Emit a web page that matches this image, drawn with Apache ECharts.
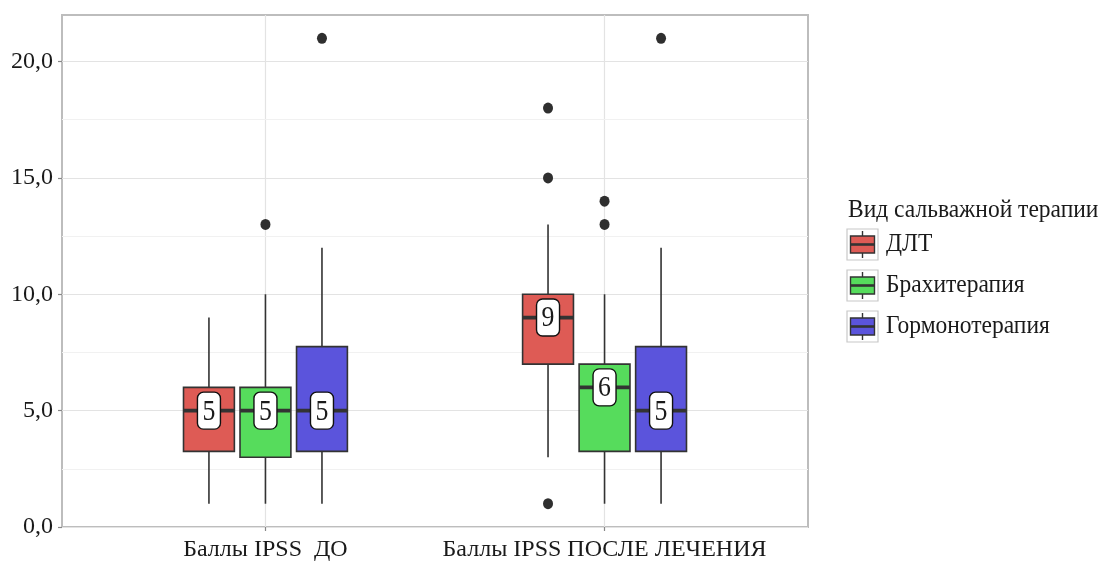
<!DOCTYPE html>
<html>
<head>
<meta charset="utf-8">
<script src="https://cdn.jsdelivr.net/npm/echarts@6/dist/echarts.min.js"></script>
<style>
  html, body { margin: 0; padding: 0; background: #fff; }
  #chart { width: 1105px; height: 562px; }
</style>
</head>
<body>
<div id="chart"></div>
<script>
// Groups on the x axis and therapy types (dodged inside each group)
const groups = ['Баллы IPSS  ДО', 'Баллы IPSS ПОСЛЕ ЛЕЧЕНИЯ'];
const therapies = ['ДЛТ', 'Брахитерапия', 'Гормонотерапия'];
const therapyColors = ['#de5b55', '#56dc5c', '#5b54dc'];

// Box statistics per group: [lower whisker, Q1, median, Q3, upper whisker]
const dltBox = [[1, 3.25, 5, 6, 9], [3, 7, 9, 10, 13]];
const brachyBox = [[1, 3, 5, 6, 10], [1, 3.25, 6, 7, 10]];
const hormoneBox = [[1, 3.25, 5, 7.75, 12], [1, 3.25, 5, 7.75, 12]];

// Outliers per group
const dltOutliers = [[], [1, 15, 18]];
const brachyOutliers = [[13], [13, 14]];
const hormoneOutliers = [[21], [21]];

// Y axis ticks
const yTicks = [0, 5, 10, 15, 20];
const yMinorTicks = [2.5, 7.5, 12.5, 17.5];

const FONT = 'Liberation Serif';
const dodge = 1 / 6;
const boxHalf = 0.075;

const boxSets = [dltBox, brachyBox, hormoneBox];
const outlierSets = [dltOutliers, brachyOutliers, hormoneOutliers];

const boxData = [];
const pointData = [];
groups.forEach((g, gi) => {
  boxSets.forEach((set, ti) => {
    const x = gi + 1 + (ti - 1) * dodge;
    boxData.push([x].concat(set[gi]).concat([ti]));
    outlierSets[ti][gi].forEach(v => pointData.push([x, v]));
  });
});

const stroke = '#333333';

function renderBox(params, api) {
  const x = api.value(0);
  const lo = api.coord([x, api.value(1)]);
  const q1 = api.coord([x, api.value(2)]);
  const med = api.coord([x, api.value(3)]);
  const q3 = api.coord([x, api.value(4)]);
  const hi = api.coord([x, api.value(5)]);
  const color = therapyColors[api.value(6)];
  const half = api.size([boxHalf, 0])[0];
  const cx = med[0];
  const medVal = api.value(3);
  return {
    type: 'group',
    children: [
      { type: 'line', shape: { x1: cx, y1: hi[1], x2: cx, y2: q3[1] },
        style: { stroke: stroke, lineWidth: 1.6 } },
      { type: 'line', shape: { x1: cx, y1: q1[1], x2: cx, y2: lo[1] },
        style: { stroke: stroke, lineWidth: 1.6 } },
      { type: 'rect', shape: { x: cx - half, y: q3[1], width: half * 2, height: q1[1] - q3[1] },
        style: { fill: color, stroke: stroke, lineWidth: 1.6 } },
      { type: 'line', shape: { x1: cx - half, y1: med[1], x2: cx + half, y2: med[1] },
        style: { stroke: stroke, lineWidth: 3.8 } },
      { type: 'rect', shape: { x: cx - 11.5, y: med[1] - 18.5, width: 23, height: 37, r: 6 },
        style: { fill: '#ffffff', stroke: '#111111', lineWidth: 1.4 } },
      { type: 'text', x: cx, y: med[1] + 1, scaleX: 0.86, originX: 0, originY: 0,
        style: { text: String(medVal), fontFamily: FONT, fontSize: 30, fill: '#1a1a1a',
                 align: 'center', verticalAlign: 'middle' } }
    ]
  };
}

// Legend drawn as key glyphs with labels
const legendX = 847, legendKeyTop = [229, 270, 311];
const legendTextStyle = { fontFamily: FONT, fontSize: 25, fill: '#1a1a1a' };
const legendGraphics = [{
  type: 'text', x: 848, y: 198, scaleX: 0.94,
  style: Object.assign({ text: 'Вид сальважной терапии' }, legendTextStyle)
}];
therapies.forEach((name, i) => {
  const top = legendKeyTop[i];
  legendGraphics.push(
    { type: 'rect', shape: { x: legendX, y: top, width: 31, height: 31 },
      style: { fill: '#ffffff', stroke: '#c8c8c8', lineWidth: 1.2 } },
    { type: 'line', shape: { x1: legendX + 15.5, y1: top + 2, x2: legendX + 15.5, y2: top + 29 },
      style: { stroke: stroke, lineWidth: 1.4 } },
    { type: 'rect', shape: { x: legendX + 3.5, y: top + 7, width: 24, height: 17 },
      style: { fill: therapyColors[i], stroke: stroke, lineWidth: 1.4 } },
    { type: 'line', shape: { x1: legendX + 3.5, y1: top + 15.5, x2: legendX + 27.5, y2: top + 15.5 },
      style: { stroke: stroke, lineWidth: 2.6 } },
    { type: 'text', x: 886, y: top + 3, scaleX: 0.94,
      style: Object.assign({ text: name }, legendTextStyle) }
  );
});

const chart = echarts.init(document.getElementById('chart'), null, { renderer: 'canvas' });
chart.setOption({
  animation: false,
  backgroundColor: '#ffffff',
  grid: {
    left: 62, top: 15, width: 746, height: 512,
    outerBoundsMode: 'none', containLabel: false,
    show: true, borderColor: '#bdbdbd', borderWidth: 2, backgroundColor: '#ffffff'
  },
  xAxis: {
    type: 'value', min: 0.4, max: 2.6,
    axisLine: { show: false },
    axisTick: { show: true, customValues: [1, 2], length: 4, lineStyle: { color: '#888', width: 1.2 } },
    axisLabel: {
      customValues: [1, 2], margin: 11,
      formatter: v => groups[Math.round(v) - 1] || '',
      fontFamily: FONT, fontSize: 24, color: '#1a1a1a'
    },
    splitLine: { show: false }
  },
  yAxis: {
    type: 'value', min: 0, max: 22,
    axisLine: { show: false },
    axisTick: { show: true, customValues: yTicks, length: 4, lineStyle: { color: '#888', width: 1.2 } },
    axisLabel: {
      customValues: yTicks, margin: 9,
      formatter: v => v.toFixed(1).replace('.', ','),
      fontFamily: FONT, fontSize: 24, color: '#1a1a1a'
    },
    splitLine: { show: true, lineStyle: { color: '#e3e3e3', width: 1.2 } }
  },
  series: [
    {
      type: 'line', data: [], silent: true, z: 1,
      markLine: {
        silent: true, symbol: 'none', label: { show: false }, z: 1,
        lineStyle: { type: 'solid', color: '#e3e3e3', width: 1.2 },
        data: [1, 2].map(v => ({ xAxis: v }))
      }
    },
    {
      type: 'line', data: [], silent: true, z: 1,
      markLine: {
        silent: true, symbol: 'none', label: { show: false }, z: 1,
        lineStyle: { type: 'solid', color: '#f1f1f1', width: 1 },
        data: yMinorTicks.map(v => ({ yAxis: v }))
      }
    },
    {
      type: 'custom', renderItem: renderBox, data: boxData,
      encode: { x: 0, y: [1, 2, 3, 4, 5] }, clip: false, z: 3
    },
    {
      type: 'scatter', data: pointData, symbol: 'circle', symbolSize: [10, 11],
      itemStyle: { color: '#2f2f2f', opacity: 1 }, z: 4
    }
  ],
  graphic: legendGraphics
});
</script>
</body>
</html>
